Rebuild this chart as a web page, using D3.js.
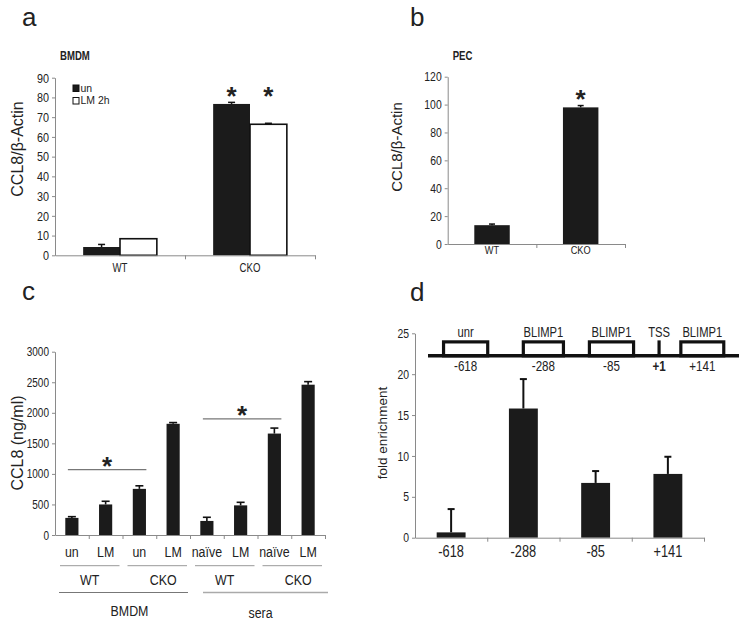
<!DOCTYPE html>
<html><head><meta charset="utf-8">
<script src="https://cdn.jsdelivr.net/npm/d3@7/dist/d3.min.js"></script>
<style>
body{margin:0;background:#fff}
svg{display:block}
text{font-family:"Liberation Sans",Arial,sans-serif;fill:#222}
.narrow{font-family:"Liberation Sans Narrow","Arial Narrow","Liberation Sans",sans-serif}
</style></head><body>
<svg id="chart" width="749" height="625"></svg>
<script>
// ---------- DATA ----------
// Panel a (BMDM)
const aCats = ["WT", "CKO"];
const aSeries = ["un", "LM 2h"];
const aUn = [4.2, 76.7];
const aUnErr = [1.3, 0.8];
const aLM = [8.4, 66.4];
const aLMErr = [0, 0.5];
const aTicks = [0, 10, 20, 30, 40, 50, 60, 70, 80, 90];
const aStars = [false, true];

// Panel b (PEC)
const bCats = ["WT", "CKO"];
const bVals = [13.5, 98];
const bErr = [0.8, 1.3];
const bTicks = [0, 20, 40, 60, 80, 100, 120];
const bStars = [false, true];

// Panel c
const cCats = ["un", "LM", "un", "LM", "naïve", "LM", "naïve", "LM"];
const cVals = [280, 500, 755, 1820, 230, 485, 1660, 2460];
const cErr = [20, 52, 50, 20, 60, 50, 90, 50];
const cTicks = [0, 500, 1000, 1500, 2000, 2500, 3000];
const cGenotypes = [
  {label: "WT", from: 0, to: 1},
  {label: "CKO", from: 2, to: 3},
  {label: "WT", from: 4, to: 5},
  {label: "CKO", from: 6, to: 7}
];
const cSources = [
  {label: "BMDM", from: 0, to: 3},
  {label: "sera", from: 4, to: 7}
];
const cSig = [
  {from: 0, to: 2, level: 1070},
  {from: 4, to: 6, level: 1900}
];

// Panel d
const dCats = ["-618", "-288", "-85", "+141"];
const dVals = [0.65, 15.8, 6.7, 7.8];
const dErr = [2.85, 3.6, 1.45, 2.1];
const dTicks = [0, 5, 10, 15, 20, 25];
// promoter schematic (schematic units 0-100 along the drawn line)
const dElemLabel = ["unr", "BLIMP1", "BLIMP1", "TSS", "BLIMP1"];
const dElemPos = ["-618", "-288", "-85", "+1", "+141"];
const dElemCenter = [12.1, 37.1, 59.0, 74.3, 88.2];
const dElemWidth = [14.2, 12.9, 14.2, 0, 13.8];
const dElemIsBox = [true, true, true, false, true];

// ---------- HELPERS ----------
const svg = d3.select("#chart");
const BAR = "#1b1b1b";
const AXIS = "#8a8a8a";
const NARROW = 0.8;

function yAxis(g, y, ticks, x, fs) {
  const ax = g.append("g").attr("transform", `translate(${x},0)`)
    .call(d3.axisLeft(y).tickValues(ticks).tickFormat(d3.format("d")).tickSize(3).tickSizeOuter(0).tickPadding(3));
  ax.select(".domain").attr("stroke", AXIS);
  ax.selectAll(".tick line").attr("stroke", AXIS);
  ax.selectAll(".tick text").attr("class", "narrow").style("font-size", fs + "px")
    .style("font-family", "'Liberation Sans Narrow','Arial Narrow','Liberation Sans',sans-serif")
    .attr("fill", "#333");
  return ax;
}
function xAxisLine(g, n, x0, x1, y0, tickLen) {
  const s = d3.scaleLinear().domain([0, n]).range([x0, x1]);
  const ax = g.append("g").attr("transform", `translate(0,${y0})`)
    .call(d3.axisBottom(s).tickValues(d3.range(1, n + 1)).tickFormat("").tickSize(tickLen).tickSizeOuter(0));
  ax.select(".domain").attr("stroke", AXIS);
  ax.selectAll(".tick line").attr("stroke", AXIS);
}
function errBar(g, x, yTop, yBase, capW, sw) {
  g.append("line").attr("x1", x).attr("x2", x).attr("y1", yBase).attr("y2", yTop)
    .attr("stroke", "#111").attr("stroke-width", sw);
  g.append("line").attr("x1", x - capW / 2).attr("x2", x + capW / 2).attr("y1", yTop).attr("y2", yTop)
    .attr("stroke", "#111").attr("stroke-width", sw);
}
function star(g, x, yCenter, fs) {
  g.append("text").attr("x", x).attr("y", yCenter + fs * 0.58).attr("text-anchor", "middle")
    .style("font-size", fs + "px").style("font-weight", "bold").attr("fill", "#111").text("*");
}
function panelLetter(x, y, t) {
  svg.append("text").attr("x", x).attr("y", y).style("font-size", "26px").attr("fill", "#111").text(t);
}
function yLabel(x, y, t, fs) {
  svg.append("text").attr("transform", `translate(${x},${y}) rotate(-90)`)
    .attr("text-anchor", "middle").style("font-size", fs + "px").attr("fill", "#222").text(t);
}

// ---------- PANEL A ----------
{
  const g = svg.append("g");
  const x = d3.scaleBand().domain(aCats).range([55, 315]);
  const sub = d3.scaleBand().domain(aSeries).range([0, x.bandwidth()]).paddingOuter(0.764);
  const y = d3.scaleLinear().domain([0, 90]).range([255.3, 77.7]);
  const vals = [aUn, aLM], errs = [aUnErr, aLMErr];
  aCats.forEach((c, i) => {
    aSeries.forEach((s, j) => {
      const bx = x(c) + sub(s);
      g.append("rect").attr("x", bx).attr("y", y(vals[j][i])).attr("width", sub.bandwidth())
        .attr("height", y(0) - y(vals[j][i]))
        .attr("fill", j === 0 ? BAR : "#fff").attr("stroke", "#111").attr("stroke-width", j === 0 ? 0 : 1.6);
      if (errs[j][i] > 0) errBar(g, bx + sub.bandwidth() / 2, y(vals[j][i] + errs[j][i]), y(vals[j][i]), 7, 1.5);
    });
    g.append("text").attr("class", "narrow").attr("x", x(c) + x.bandwidth() / 2).attr("y", 272)
      .attr("text-anchor", "middle").style("font-size", "12px").text(c);
  });
  aCats.forEach((c, i) => {
    if (!aStars[i]) return;
    aSeries.forEach(s => star(g, x(c) + sub(s) + sub.bandwidth() / 2, 89.5, 26));
  });
  yAxis(g, y, aTicks, 55, 13.5);
  xAxisLine(g, aCats.length, 55, 315, 255.3, 4);
  // legend
  aSeries.forEach((s, j) => {
    g.append("rect").attr("x", 73).attr("y", 85 + j * 12.5).attr("width", 6).attr("height", 6.5)
      .attr("fill", j === 0 ? BAR : "#fff").attr("stroke", "#111").attr("stroke-width", 1);
    g.append("text").attr("class", "legend").attr("x", 80.5).attr("y", 91.8 + j * 12.5)
      .style("font-size", "11px").text(s);
  });
  g.append("text").attr("class", "narrow").attr("x", 60).attr("y", 60)
    .style("font-size", "12px").style("font-weight", "bold").text("BMDM");
  panelLetter(22, 26, "a");
  yLabel(23, 149, "CCL8/β-Actin", 16);
}

// ---------- PANEL B ----------
{
  const g = svg.append("g");
  const x = d3.scaleBand().domain(bCats).range([447.7, 625]);
  const y = d3.scaleLinear().domain([0, 120]).range([244, 76.7]);
  const bw = x.bandwidth() * 0.4;
  bCats.forEach((c, i) => {
    const cx = x(c) + x.bandwidth() / 2;
    g.append("rect").attr("x", cx - bw / 2).attr("y", y(bVals[i])).attr("width", bw)
      .attr("height", y(0) - y(bVals[i])).attr("fill", BAR);
    errBar(g, cx, y(bVals[i] + bErr[i]), y(bVals[i]), 6, 1.5);
    if (bStars[i]) star(g, cx, y(bVals[i] + bErr[i]) - 13, 26);
    g.append("text").attr("class", "narrow").attr("x", cx).attr("y", 253.5)
      .attr("text-anchor", "middle").style("font-size", "11.5px").text(c);
  });
  yAxis(g, y, bTicks, 447.7, 13);
  xAxisLine(g, bCats.length, 447.7, 625, 244, 4);
  g.append("text").attr("class", "narrow").attr("x", 452.7).attr("y", 60)
    .style("font-size", "12px").style("font-weight", "bold").text("PEC");
  panelLetter(410, 26, "b");
  yLabel(402, 147, "CCL8/β-Actin", 15);
}

// ---------- PANEL C ----------
{
  const g = svg.append("g");
  const idx = d3.range(cCats.length);
  const x = d3.scaleBand().domain(idx).range([55, 325]);
  const y = d3.scaleLinear().domain([0, 3000]).range([535, 351.7]);
  const bw = x.bandwidth() * 0.39;
  idx.forEach(i => {
    const cx = x(i) + x.bandwidth() / 2;
    g.append("rect").attr("x", cx - bw / 2).attr("y", y(cVals[i])).attr("width", bw)
      .attr("height", y(0) - y(cVals[i])).attr("fill", BAR);
    errBar(g, cx, y(cVals[i] + cErr[i]), y(cVals[i]), 8, 1.6);
    g.append("text").attr("class", "narrow").attr("x", cx).attr("y", 557)
      .attr("text-anchor", "middle").style("font-size", "15.5px").text(cCats[i]);
  });
  yAxis(g, y, cTicks, 55, 12.5);
  xAxisLine(g, cCats.length, 55, 325, 535, 4);
  cGenotypes.forEach(gr => {
    const x0 = x(gr.from) + 5, x1 = x(gr.to) + x.bandwidth() - 3;
    g.append("line").attr("x1", x0).attr("x2", x1).attr("y1", 565.7).attr("y2", 565.7)
      .attr("stroke", "#999").attr("stroke-width", 1);
    g.append("text").attr("class", "narrow").attr("x", (x0 + x1) / 2 + (gr.label === "CKO" ? 6 : 0)).attr("y", 585)
      .attr("text-anchor", "middle").style("font-size", "15.5px").text(gr.label);
  });
  cSources.forEach((gr, k) => {
    const x0 = x(gr.from) + (k === 0 ? 4 : 13), x1 = x(gr.to) + x.bandwidth() - (k === 0 ? 2 : -3);
    g.append("line").attr("x1", x0).attr("x2", x1).attr("y1", 592.5).attr("y2", 592.5)
      .attr("stroke", k === 0 ? "#777" : "#aaa").attr("stroke-width", k === 0 ? 1 : 1.6);
    g.append("text").attr("class", "narrow").attr("x", (x0 + x1) / 2 + (k === 0 ? 6 : -5)).attr("y", k === 0 ? 616 : 618)
      .attr("text-anchor", "middle").style("font-size", "15.5px").text(gr.label);
  });
  cSig.forEach(s => {
    const x0 = x(s.from) + x.bandwidth() / 2 - 4, x1 = x(s.to) + x.bandwidth() / 2 + 7;
    g.append("line").attr("x1", x0).attr("x2", x1).attr("y1", y(s.level)).attr("y2", y(s.level))
      .attr("stroke", "#777").attr("stroke-width", 1.3);
    star(g, (x0 + x1) / 2, y(s.level) - 9.5, 26);
  });
  panelLetter(22, 300, "c");
  yLabel(23, 443, "CCL8 (ng/ml)", 16);
}

// ---------- PANEL D ----------
{
  const g = svg.append("g");
  const x = d3.scaleBand().domain(dCats).range([415, 704]);
  const y = d3.scaleLinear().domain([0, 25]).range([537.7, 333.3]);
  const bw = x.bandwidth() * 0.4;
  dCats.forEach((c, i) => {
    const cx = x(c) + x.bandwidth() / 2;
    errBar(g, cx, y(dVals[i] + dErr[i]), y(dVals[i]), 7, 2);
    g.append("rect").attr("x", cx - bw / 2).attr("y", y(dVals[i])).attr("width", bw)
      .attr("height", y(0) - y(dVals[i])).attr("fill", BAR);
    g.append("text").attr("class", "narrow").attr("x", cx).attr("y", 557)
      .attr("text-anchor", "middle").style("font-size", "16px").text(c);
  });
  yAxis(g, y, dTicks, 415, 13);
  xAxisLine(g, dCats.length, 415, 704, 537.7, 4);

  // promoter schematic
  const s = d3.scaleLinear().domain([0, 100]).range([428, 739]);
  const lineY = y(22.25), topY = y(23.95);
  dElemLabel.forEach((lab, i) => {
    const cx = s(dElemCenter[i]);
    if (dElemIsBox[i]) {
      const w = s(dElemWidth[i]) - s(0);
      g.append("rect").attr("x", cx - w / 2).attr("y", topY).attr("width", w).attr("height", lineY - topY)
        .attr("fill", "#fff").attr("stroke", "#111").attr("stroke-width", 3.2);
    } else {
      g.append("line").attr("x1", cx).attr("x2", cx).attr("y1", topY - 1.5).attr("y2", lineY)
        .attr("stroke", "#111").attr("stroke-width", 3.2);
    }
    g.append("text").attr("class", "narrow").attr("x", cx).attr("y", 336.7).attr("text-anchor", "middle")
      .style("font-size", "14px").text(lab);
    g.append("text").attr("class", "narrow").attr("x", cx).attr("y", 370.5).attr("text-anchor", "middle")
      .style("font-size", "14.5px").style("font-weight", dElemPos[i] === "+1" ? "bold" : "normal").text(dElemPos[i]);
  });
  g.append("line").attr("x1", s(0)).attr("x2", s(100)).attr("y1", lineY).attr("y2", lineY)
    .attr("stroke", "#111").attr("stroke-width", 3.4);
  panelLetter(410, 301, "d");
  yLabel(387, 433, "fold enrichment", 13.5);
}

// condense the "narrow" texts horizontally (condensed face like the reference)
svg.selectAll("text.narrow").each(function () {
  const w = this.getComputedTextLength();
  d3.select(this).attr("textLength", w * NARROW).attr("lengthAdjust", "spacingAndGlyphs");
});
svg.selectAll("text.legend").each(function () {
  const w = this.getComputedTextLength();
  d3.select(this).attr("textLength", w * 0.95).attr("lengthAdjust", "spacingAndGlyphs");
});
</script>
</body></html>
